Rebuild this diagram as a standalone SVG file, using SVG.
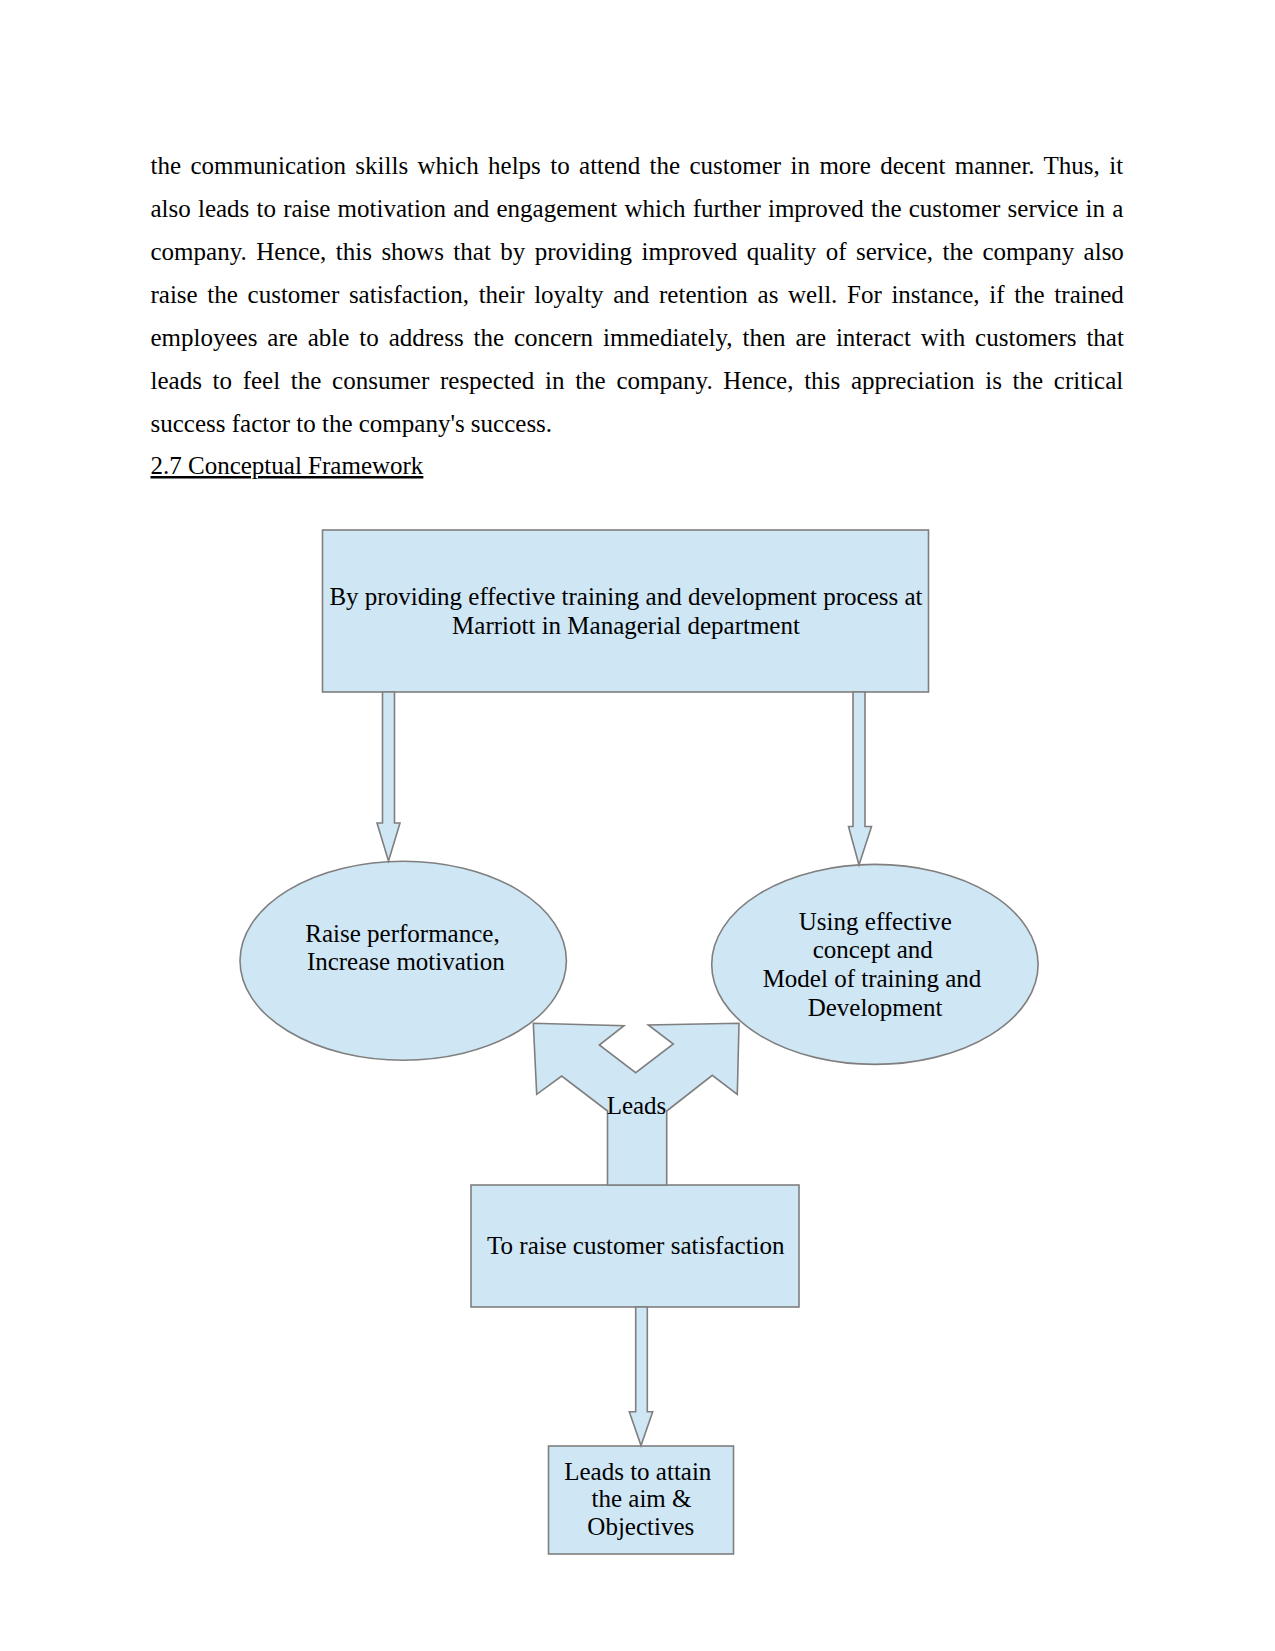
<svg xmlns="http://www.w3.org/2000/svg" width="1275" height="1651" viewBox="0 0 1275 1651">
  <style>
    .body { font-family: "Liberation Serif", "Times New Roman", serif; font-size: 25px; fill: #000; }
    .lbl { font-family: "Liberation Serif", "Times New Roman", serif; font-size: 25px; fill: #000; text-anchor: middle; }
    .shape { fill: #cfe6f4; stroke: #7f7f7f; stroke-width: 1.6; }
  </style>
  <rect x="0" y="0" width="1275" height="1651" fill="#ffffff"/>

  <g id="body-text">
    <text class="body" x="150.5" y="173.5" word-spacing="3.15">the communication skills which helps to attend the customer in more decent manner. Thus, it</text>
    <text class="body" x="150.5" y="216.5" word-spacing="0.96">also leads to raise motivation and engagement which further improved the customer service in a</text>
    <text class="body" x="150.5" y="259.5" word-spacing="3.22">company. Hence, this shows that by providing improved quality of service, the company also</text>
    <text class="body" x="150.5" y="302.5" word-spacing="3.42">raise the customer satisfaction, their loyalty and retention as well. For instance, if the trained</text>
    <text class="body" x="150.5" y="345.5" word-spacing="3.66">employees are able to address the concern immediately, then are interact with customers that</text>
    <text class="body" x="150.5" y="388.5" word-spacing="4.44">leads to feel the consumer respected in the company. Hence, this appreciation is the critical</text>
    <text class="body" x="150.5" y="431.5">success factor to the company's success.</text>
    <text class="body" x="150.5" y="474" text-decoration="underline">2.7 Conceptual Framework</text>
  </g>

  <g id="node-top">
    <rect class="shape" x="322.5" y="530" width="606" height="162"/>
    <text class="lbl" x="626" y="605">By providing effective training and development process at</text>
    <text class="lbl" x="626" y="633.5">Marriott in Managerial department</text>
  </g>

  <g id="node-left-ellipse">
    <ellipse class="shape" cx="403.2" cy="960.7" rx="163.2" ry="99.5"/>
    <text class="lbl" x="402.5" y="941.5">Raise performance,</text>
    <text class="lbl" x="405.8" y="970">Increase motivation</text>
  </g>

  <g id="node-right-ellipse">
    <ellipse class="shape" cx="874.9" cy="964.4" rx="163.2" ry="100"/>
    <text class="lbl" x="875.3" y="930">Using effective</text>
    <text class="lbl" x="872.7" y="958.3">concept and</text>
    <text class="lbl" x="872" y="987.3">Model of training and</text>
    <text class="lbl" x="875" y="1016">Development</text>
  </g>

  <g id="node-middle">
    <rect class="shape" x="471" y="1185" width="328" height="122"/>
    <text class="lbl" x="635.8" y="1254.3">To raise customer satisfaction</text>
  </g>

  <g id="node-bottom">
    <rect class="shape" x="548.5" y="1446" width="185" height="108"/>
    <text class="lbl" x="637.8" y="1480">Leads to attain</text>
    <text class="lbl" x="641.5" y="1507">the aim &amp;</text>
    <text class="lbl" x="640.8" y="1535">Objectives</text>
  </g>

  <g id="connectors">
    <polygon class="shape" points="382.5,692 394.5,692 394.5,823 400,823 388.5,861 377,823 382.5,823"/>
    <polygon class="shape" points="853,692 865,692 865,826.5 871.5,826.5 859,865 848.5,826.5 853,826.5"/>
    <polygon class="shape" points="607.5,1185 607.5,1111 561.7,1076 536.7,1094.3 533.3,1023.3 624,1025.7 599.3,1045 635.7,1072.7 673.3,1044 648.3,1025 739,1023.3 737.3,1094.3 712.3,1075.3 666.7,1111 666.7,1185"/>
    <text class="lbl" x="636.5" y="1114">Leads</text>
    <polygon class="shape" points="635.7,1307 647.3,1307 647.3,1411.7 652.7,1411.7 641,1445.5 629.3,1411.7 635.7,1411.7"/>
  </g>
</svg>
